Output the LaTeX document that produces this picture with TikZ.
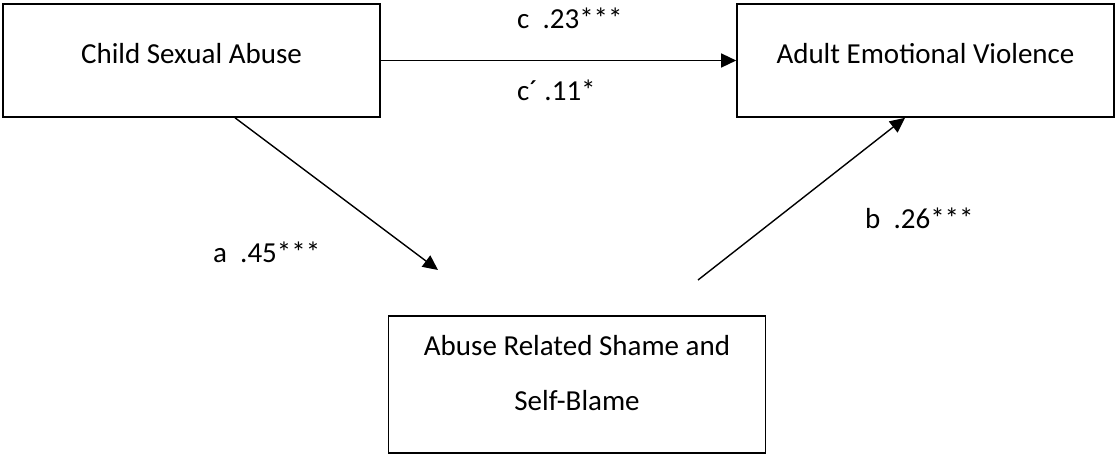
\documentclass[tikz,border=0pt]{standalone}
\usepackage{fontspec}
\setmainfont{Carlito}
\usetikzlibrary{arrows.meta}

\begin{document}
\begin{tikzpicture}[x=1pt,y=-1pt,font=\fontsize{29}{55}\selectfont,
  var/.style={draw,line width=1.6pt,minimum width=377pt,minimum height=113pt,inner sep=0pt,text height=20pt,text depth=15pt},
  arr/.style={line width=1.4pt,-{Triangle[length=15pt,width=14pt]}},
  coef/.style={anchor=base west,inner sep=0pt}]
\useasboundingbox (0,0) rectangle (1117,456);
% the three variables: predictor, outcome, mediator
\node[var] (csa) at (191.5,60.5) {Child Sexual Abuse};
\node[var] (aev) at (925.5,60.5) {Adult Emotional Violence};
\node[var,minimum height=137pt,text height=75pt,text depth=24pt,align=center] (asb) at (577,384.5) {Abuse Related Shame and\\Self-Blame};
% paths (a and b stop short of the boxes)
\coordinate (atip) at (438,270);
\coordinate (btail) at (698,280);
\draw[arr] (csa) -- (aev);
\draw[arr] ([xshift=43.5pt]csa.south) -- (atip);
\draw[arr] (btail) -- ([xshift=-20.5pt]aev.south);
% coefficients
\node[coef] (lc) at (517,28) {c~~.23***};
\node[coef] (lcp) at (517,100) {c´ .11*};
\node[coef] (la) at (213,262) {a~~.45***};
\node[coef] (lb) at (865,228) {b~~.26***};
\end{tikzpicture}
\end{document}
